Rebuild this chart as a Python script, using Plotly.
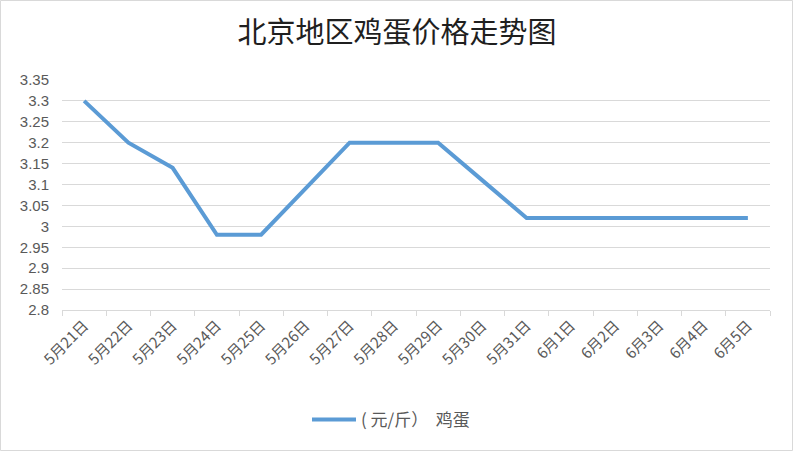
import plotly.graph_objects as go

dates = ["5月21日", "5月22日", "5月23日", "5月24日", "5月25日", "5月26日", "5月27日", "5月28日",
         "5月29日", "5月30日", "5月31日", "6月1日", "6月2日", "6月3日", "6月4日", "6月5日"]
prices = [3.30, 3.20, 3.14, 2.98, 2.98, 3.09, 3.20, 3.20, 3.20, 3.11, 3.02, 3.02, 3.02, 3.02, 3.02, 3.02]
y_ticks = [2.8, 2.85, 2.9, 2.95, 3.0, 3.05, 3.1, 3.15, 3.2, 3.25, 3.3, 3.35]
y_tick_text = ["2.8", "2.85", "2.9", "2.95", "3", "3.05", "3.1", "3.15", "3.2", "3.25", "3.3", "3.35"]
series_name = "( 元/斤）  鸡蛋"
title = "北京地区鸡蛋价格走势图"

font_fam = "Liberation Sans, Noto Sans CJK SC, sans-serif"

fig = go.Figure()
fig.add_trace(go.Scatter(
    x=dates, y=prices, mode="lines", name=series_name,
    line=dict(color="#5b9bd5", width=4),
))

W, H = 794, 452
ml, mr, mt, mb = 62, 24, 80, 142
pw, ph = W - ml - mr, H - mt - mb

fig.update_layout(
    width=W, height=H,
    margin=dict(l=ml, r=mr, t=mt, b=mb, autoexpand=False),
    paper_bgcolor="white", plot_bgcolor="white",
    title=dict(text=title, x=0.5, xanchor="center", y=1 - 33 / H, yanchor="middle",
               font=dict(family="Noto Sans CJK SC, sans-serif", size=29, color="#1f1f1f")),
    showlegend=True,
    legend=dict(orientation="h", x=(307 - ml) / pw, xanchor="left", y=-(420 - (H - mb)) / ph, yanchor="middle",
                font=dict(family="Noto Sans CJK SC, sans-serif", size=17, color="#595959"),
                itemwidth=44),
    xaxis=dict(
        type="category", range=[-0.5, len(dates) - 0.5], automargin=False,
        tickangle=-45, tickson="boundaries", ticks="outside", ticklen=5, tickcolor="#d9d9d9",
        showline=True, linecolor="#d9d9d9", linewidth=1, showgrid=False,
        tickfont=dict(family="Noto Sans CJK SC, sans-serif", size=15, color="#595959"),
    ),
    yaxis=dict(
        range=[2.8, 3.35], tickvals=y_ticks, ticktext=y_tick_text, automargin=False,
        showgrid=True, gridcolor="#d9d9d9", gridwidth=1, zeroline=False, showline=False,
        tickfont=dict(family=font_fam, size=15, color="#595959"), ticks="", ticklabelstandoff=12,
    ),
    shapes=[dict(type="rect", xref="paper", yref="paper",
                 x0=-(ml - 0.5) / pw, x1=1 + (mr - 1.5) / pw,
                 y0=-(mb - 1.5) / ph, y1=1 + (mt - 0.5) / ph,
                 line=dict(color="#d9d9d9", width=1), layer="below")],
)

fig.write_html("out.html", config={"displayModeBar": False},
               post_script="document.body.style.margin='0';")
